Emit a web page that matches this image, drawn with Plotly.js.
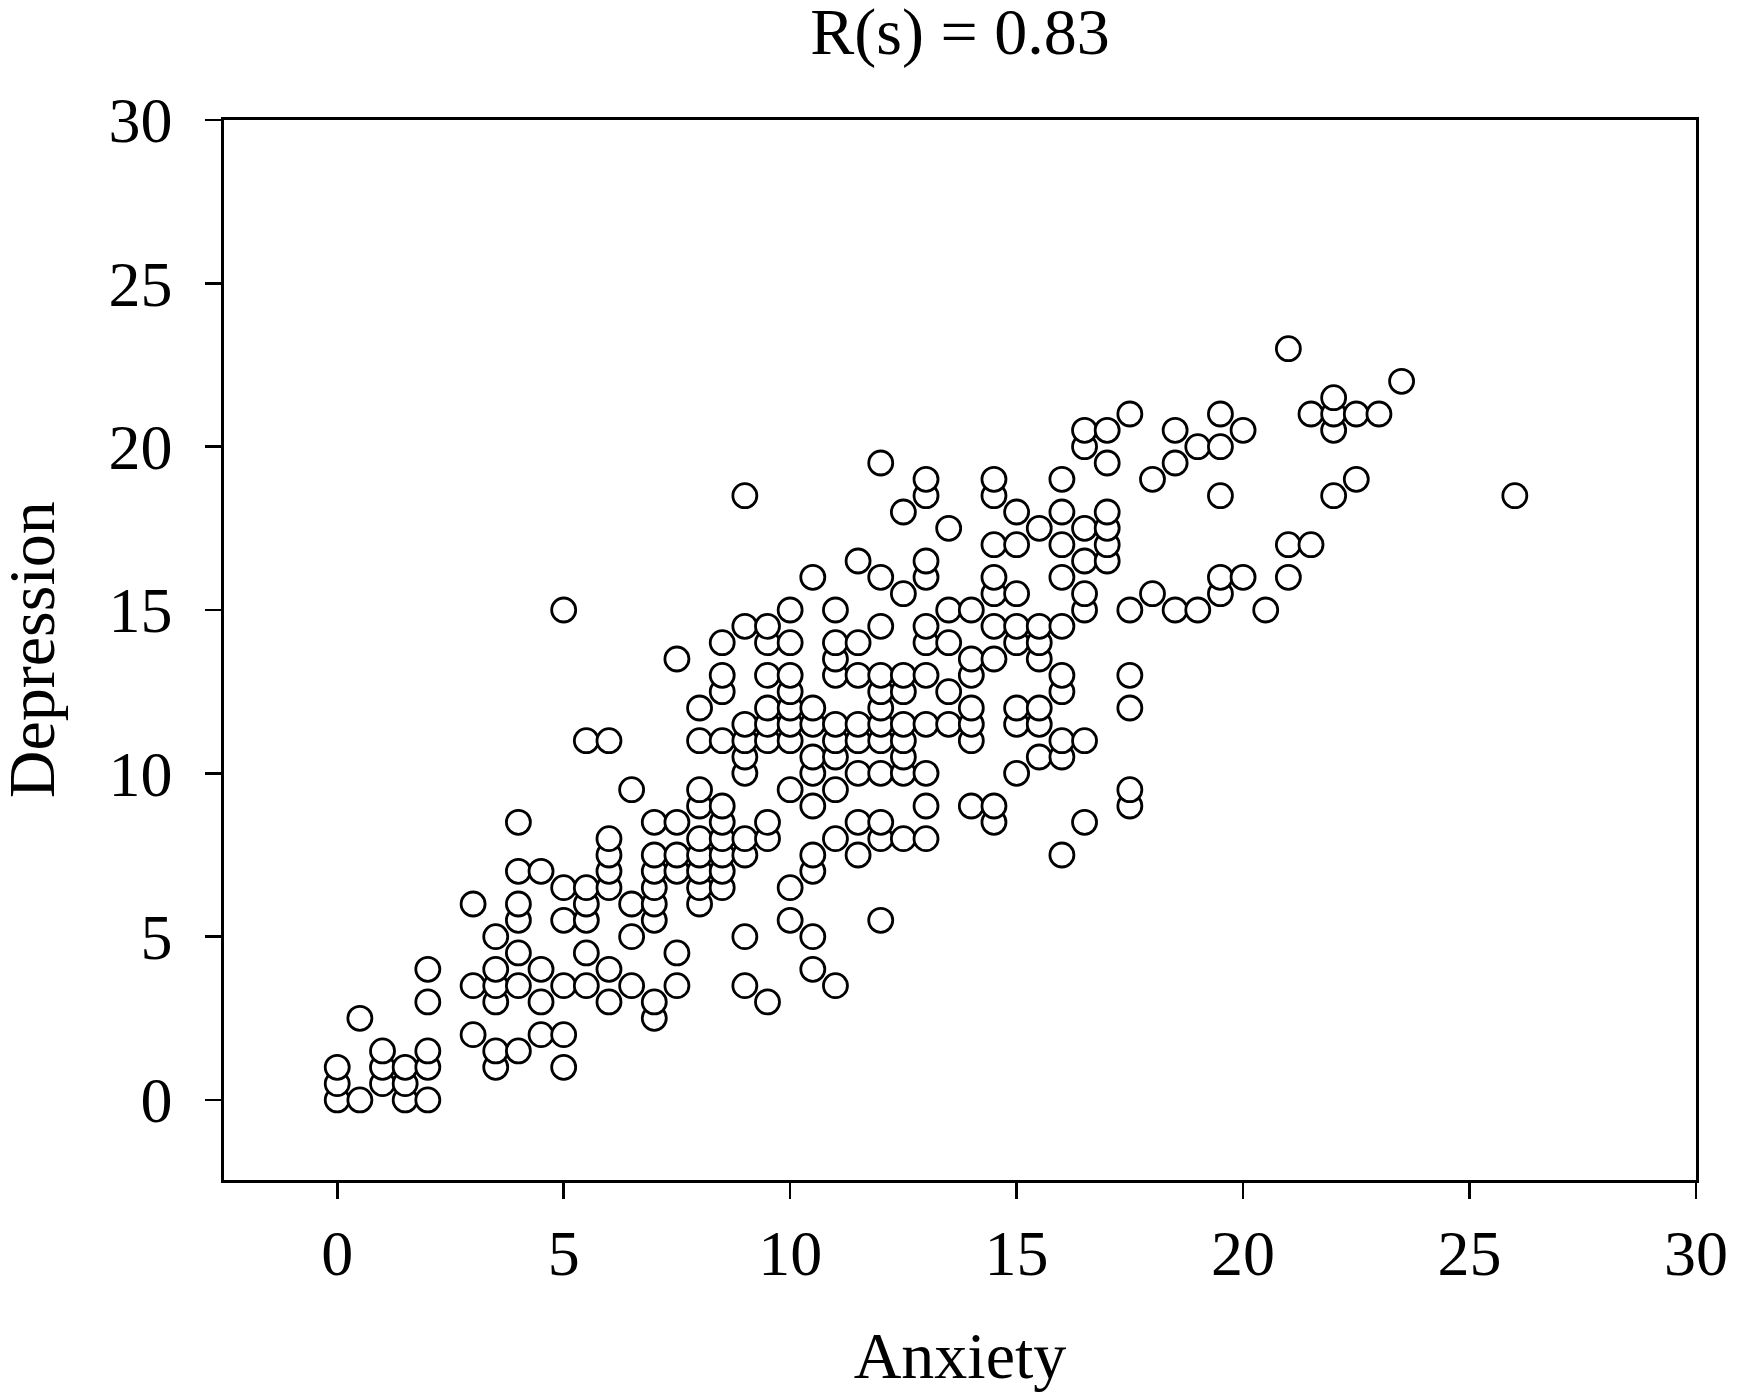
<!DOCTYPE html>
<html>
<head>
<meta charset="utf-8">
<script src="https://cdn.plot.ly/plotly-3.0.1.min.js"></script>
<style>html,body{margin:0;padding:0;background:#fff;}#chart{width:1738px;height:1397px;}</style>
</head>
<body>
<div id="chart"></div>
<script>
// Anxiety score groups (x) and the Depression scores observed at each (y)
const anxietyLevels = [0,0.5,1,1.5,2,3,3.5,4,4.5,5,5.5,6,6.5,7,7.5,8,8.5,9,9.5,10,10.5,11,11.5,12,12.5,13,13.5,14,14.5,15,15.5,16,16.5,17,17.5,18,18.5,19,19.5,20,20.5,21,21.5,22,22.5,23,23.5,26];
const depressionAt = [
  [0,0.5,1],
  [0,2.5],
  [0.5,1,1.5],
  [0,0.5,1],
  [0,1,1.5,3,4],
  [2,3.5,6],
  [1,1.5,3,3.5,4,5],
  [1.5,3.5,4.5,5.5,6,7,8.5],
  [2,3,4,7],
  [1,2,3.5,5.5,6.5,15],
  [3.5,4.5,5.5,6,6.5,11],
  [3,4,6.5,7,7.5,8,11],
  [3.5,5,6,9.5],
  [2.5,3,5.5,6,6.5,7,7.5,8.5],
  [3.5,4.5,7,7.5,8.5,13.5],
  [6,6.5,7,7.5,8,9,9.5,11,12],
  [6.5,7,7.5,8,8.5,9,11,12.5,13,14],
  [3.5,5,7.5,8,10,10.5,11,11.5,14.5,18.5],
  [3,8,8.5,11,11.5,12,13,14,14.5],
  [5.5,6.5,9.5,11,11.5,12,12.5,13,14,15],
  [4,5,7,7.5,9,10,10.5,11.5,12,16],
  [3.5,8,9.5,10.5,11,11.5,13,13.5,14,15],
  [7.5,8.5,10,11,11.5,13,14,16.5],
  [5.5,8,8.5,10,11,11.5,12,12.5,13,14.5,16,19.5],
  [8,10,10.5,11,11.5,12.5,13,15.5,18],
  [8,9,10,11.5,13,14,14.5,16,16.5,18.5,19],
  [11.5,12.5,14,15,17.5],
  [9,11,11.5,12,13,13.5,15],
  [8.5,9,13.5,14.5,15.5,16,17,18.5,19],
  [10,11.5,12,14,14.5,15.5,17,18],
  [10.5,11.5,12,13.5,14,14.5,17.5],
  [7.5,10.5,11,12.5,13,14.5,16,17,18,19],
  [8.5,11,15,15.5,16.5,17.5,20,20.5],
  [16.5,17,17.5,18,19.5,20.5],
  [9,9.5,12,13,15,21],
  [15.5,19],
  [15,19.5,20.5],
  [15,20],
  [15.5,16,18.5,20,21],
  [16,20.5],
  [15],
  [16,17,23],
  [17,21],
  [18.5,20.5,21,21.5],
  [19,21],
  [21],
  [22],
  [18.5]
];
const titleText = "R(s) = 0.83";
const xTitle = "Anxiety";
const yTitle = "Depression";
const tickValues = [0,5,10,15,20,25,30];

const xs = [], ys = [];
anxietyLevels.forEach((a, i) => {
  depressionAt[i].forEach(d => { xs.push(a); ys.push(d); });
});

const font = "Liberation Serif, Times New Roman, serif";
const trace = {
  type: 'scatter', mode: 'markers', x: xs, y: ys,
  marker: {symbol: 'circle', size: 24, color: '#ffffff', line: {color: '#000000', width: 2.8}},
  hoverinfo: 'x+y'
};
const axisCommon = {
  showgrid: false, zeroline: false, showline: true, mirror: true,
  linecolor: '#000', linewidth: 2.6, ticks: 'outside', ticklen: 16, tickwidth: 2.6, tickcolor: '#000',
  tickvals: tickValues, ticktext: tickValues.map(String),
  tickfont: {family: font, size: 64, color: '#000'}
};
const layout = {
  width: 1738, height: 1397,
  paper_bgcolor: '#fff', plot_bgcolor: '#fff',
  margin: {l: 224, r: 42, t: 120, b: 217},
  showlegend: false,
  title: {text: titleText, font: {family: font, size: 66, color: '#000'}, x: 0.5, xref: 'paper', y: 0.978, yanchor: 'middle'},
  xaxis: Object.assign({}, axisCommon, {range: [-2.5, 30], ticklabelstandoff: 0,
    title: {text: xTitle, font: {family: font, size: 66, color: '#000'}, standoff: 44}}),
  yaxis: Object.assign({}, axisCommon, {range: [-2.45, 30], ticklabelstandoff: 20}),
  annotations: [{
    text: yTitle, xref: 'paper', yref: 'paper', x: -0.131, y: 0.5,
    xanchor: 'center', yanchor: 'middle', textangle: -90, showarrow: false,
    font: {family: font, size: 66, color: '#000'}
  }]
};
Plotly.newPlot('chart', [trace], layout, {displayModeBar: false, staticPlot: true});
</script>
</body>
</html>
